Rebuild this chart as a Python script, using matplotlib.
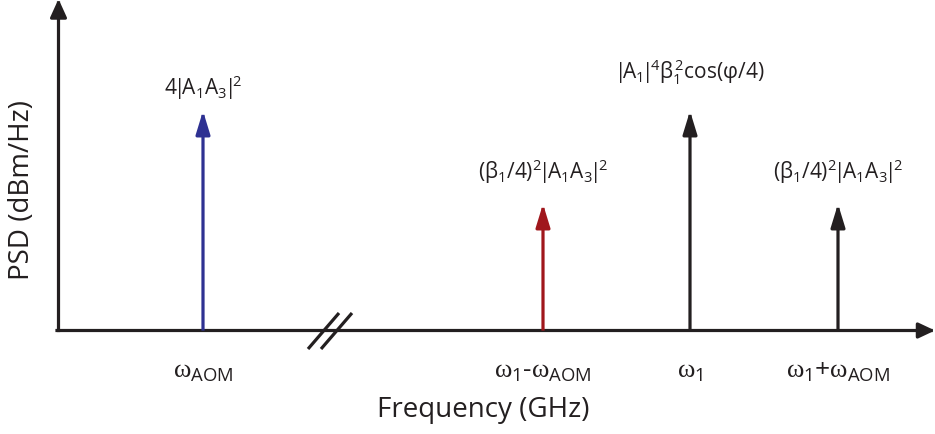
import matplotlib.pyplot as plt

plt.rcParams['font.family'] = ['Open Sans', 'DejaVu Sans']
plt.rcParams['mathtext.fontset'] = 'custom'
plt.rcParams['mathtext.rm'] = 'Open Sans'
plt.rcParams['mathtext.it'] = 'Liberation Serif'
plt.rcParams['mathtext.bf'] = 'Open Sans'
plt.rcParams['mathtext.default'] = 'regular'

# Spectral lines (schematic frequency position, relative power level)
line_freqs = [143, 483, 630, 778]
line_levels = [218, 125, 218, 125]
line_colors = ['#2e3192', '#a0171c', '#231f20', '#231f20']
peak_labels = [r'4$\!|\!A_1A_3\!|\!^2$',
               r'$(β_1/4)^2\!|\!A_1A_3\!|\!^2$',
               r'$\!|\!A_1\!|\!^4β_1^{\,2}$cos(φ/4)',
               r'$(β_1/4)^2\!|\!A_1A_3\!|\!^2$']
label_offsets = [24, 33, 40, 33]
tick_labels = [r'$\mathit{ω}_{AOM}$', r'$\mathit{ω}_1$-$\mathit{ω}_{AOM}$',
               r'$\mathit{ω}_1$', r'$\mathit{ω}_1$+$\mathit{ω}_{AOM}$']
break_x = 270

dark = '#231f20'

fig = plt.figure(figsize=(9.35, 4.35), dpi=100)
ax = fig.add_axes([0, 0, 1, 1])
ax.set_xlim(-60, 875)
ax.set_ylim(-105, 330)
ax.axis('off')

def arrow(x0, y0, x1, y1, color, lw=2.3, hl=14, hw=4.3):
    ax.annotate('', xy=(x1, y1), xytext=(x0, y0),
                arrowprops=dict(arrowstyle='-|>,head_length=%g,head_width=%g' % (hl, hw),
                                lw=lw, color=color, shrinkA=0, shrinkB=0,
                                mutation_scale=1, capstyle='projecting'))

# axes
arrow(-1.5, -1.5, -1.5, 330, dark, hl=11, hw=5)
arrow(-3, -1.5, 875, -1.5, dark, hl=10, hw=4.7)

# axis break
for dx in (0, 13):
    ax.plot([break_x - 22 + dx, break_x + 9 + dx], [-20, 16], color=dark, lw=2.3,
            solid_capstyle='butt')

# spectral lines
for f, lev, c, lab, off, tl in zip(line_freqs, line_levels, line_colors,
                                   peak_labels, label_offsets, tick_labels):
    arrow(f, 0, f, lev, c)
    ax.text(f, lev + off, lab, ha='center', va='center', fontsize=15, color=dark)
    ax.text(f, -42, tl, ha='center', va='center', fontsize=19, color=dark)

ax.text(423, -80, 'Frequency (GHz)', ha='center', va='center', fontsize=20, color=dark)
ax.text(-38, 140, 'PSD (dBm/Hz)', ha='center', va='center', rotation=90,
        fontsize=20, color=dark)

fig.savefig('out.png', dpi=100)
